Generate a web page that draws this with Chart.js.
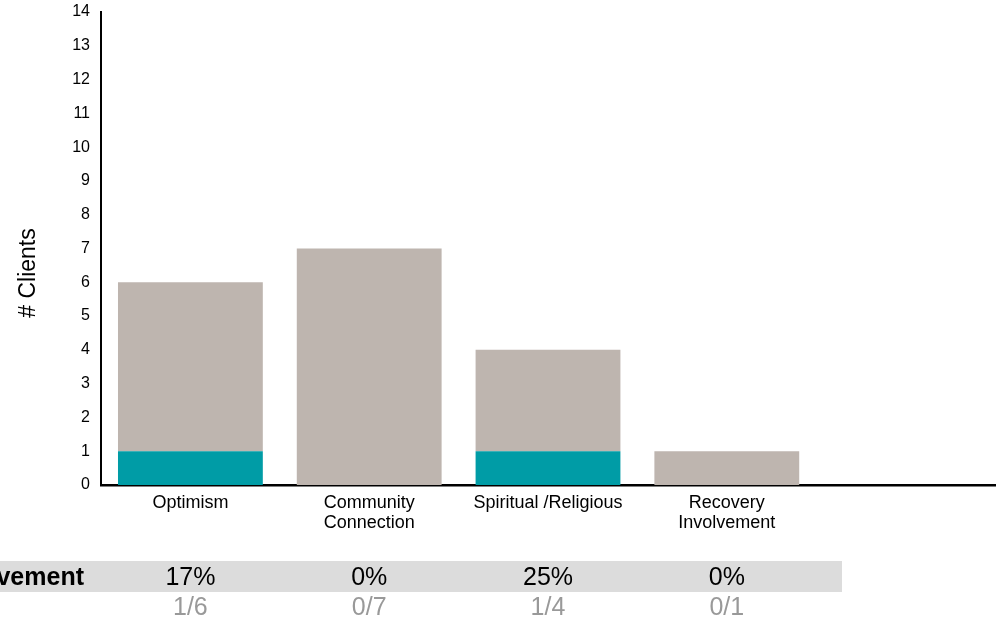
<!DOCTYPE html>
<html>
<head>
<meta charset="utf-8">
<script src="https://cdn.jsdelivr.net/npm/chart.js@4"></script>
<style>
  html, body { margin: 0; padding: 0; background: #fff; }
  #wrap { width: 1004px; height: 623px; }
</style>
</head>
<body>
<div id="wrap"><canvas id="clientsChart"></canvas></div>
<script>
const categories = [["Optimism"], ["Community", "Connection"], ["Spiritual /Religious"], ["Recovery", "Involvement"], ""];
const improved = [1, 0, 1, 0, null];
const notImproved = [5, 7, 3, 1, null];
const pctLabels = ["17%", "0%", "25%", "0%"];
const fracLabels = ["1/6", "0/7", "1/4", "0/1"];
const rowTitle = "Improvement";
const yTitle = "# Clients";

const FONT = "'Liberation Sans', Arial, sans-serif";
const ctx = document.getElementById("clientsChart");

// table under the chart + y title, columns follow the x scale
const tablePlugin = {
    id: "tableRow",
    afterDraw(chart) {
        const c = chart.ctx;
        const x = chart.scales.x;
        c.save();
        c.fillStyle = "#dcdcdc";
        c.fillRect(0, 561, 842, 31);
        c.textBaseline = "middle";
        c.font = "bold 25px " + FONT;
        c.fillStyle = "#000";
        c.textAlign = "right";
        c.fillText(rowTitle, 84, 578);
        c.textAlign = "center";
        pctLabels.forEach((t, i) => {
            const px = x.getPixelForValue(i);
            c.font = "25px " + FONT;
            c.fillStyle = "#000";
            c.fillText(t, px, 578);
            c.fillStyle = "#999";
            c.fillText(fracLabels[i], px, 608);
        });
        // y axis title
        c.translate(29, 273);
        c.rotate(-Math.PI / 2);
        c.font = "23px " + FONT;
        c.fillStyle = "#000";
        c.fillText(yTitle, 0, 0);
        c.restore();
    }
};

new Chart(ctx, {
    type: "bar",
    data: {
        labels: categories,
        datasets: [
            {
                data: improved,
                backgroundColor: "#009ca6",
                barPercentage: 0.81,
                categoryPercentage: 1
            },
            {
                data: notImproved,
                backgroundColor: "#beb5af",
                barPercentage: 0.81,
                categoryPercentage: 1
            },
        ],
    },
    options: {
        responsive: true,
        maintainAspectRatio: false,
        animation: false,
        layout: {
            padding: { top: 12, right: 9, left: 0, bottom: 0 }
        },
        scales: {
            x: {
                stacked: true,
                grid: { display: false, drawTicks: false },
                border: { color: "#000", width: 2.5 },
                ticks: {
                    color: "#000",
                    font: { size: 18, family: FONT, lineHeight: 1.1 },
                    padding: 8,
                    maxRotation: 0,
                    autoSkip: false
                },
                afterFit: s => { s.height = 138; s.paddingLeft = 0; s.paddingRight = 0; }
            },
            y: {
                stacked: true,
                min: 0,
                max: 14,
                grid: { display: false, drawTicks: false },
                border: { color: "#000", width: 2 },
                ticks: {
                    stepSize: 1,
                    color: "#000",
                    font: { size: 16, family: FONT },
                    padding: 11
                },
                afterFit: s => { s.width = 101; s.paddingTop = 0; s.paddingBottom = 0; }
            },
        },
        plugins: {
            legend: { display: false },
            tooltip: { enabled: false }
        },
    },
    plugins: [tablePlugin]
});
</script>
</body>
</html>
